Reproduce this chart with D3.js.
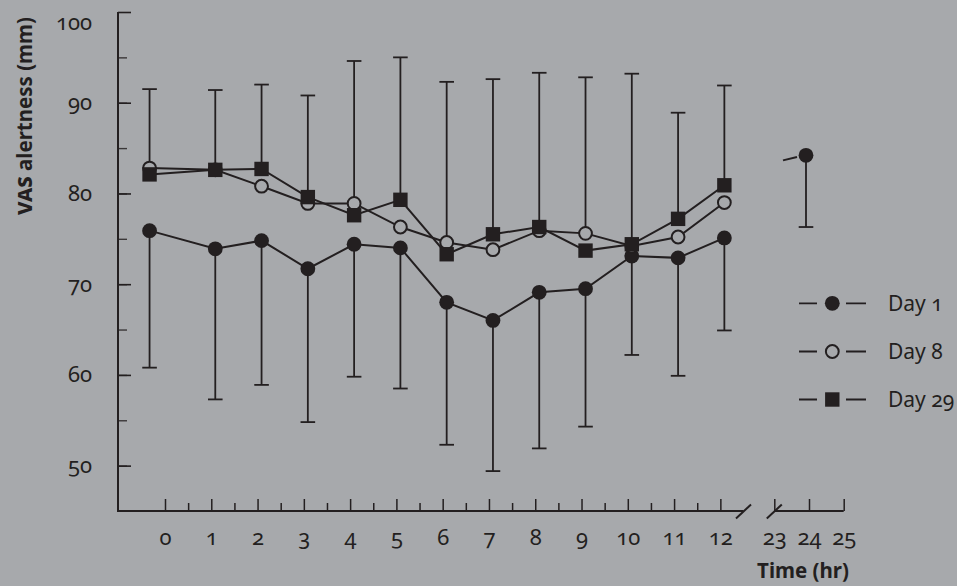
<!DOCTYPE html>
<html><head><meta charset="utf-8">
<script src="https://cdn.jsdelivr.net/npm/d3@7"></script>
<style>
html,body{margin:0;padding:0;background:#a7a9ac;}
svg{display:block;font-family:"Noto Sans",sans-serif;}
.num{font-variant-numeric:oldstyle-nums;}
</style></head><body>
<svg id="chart" width="957" height="586"></svg>
<script>
// ---- data ----
const times  = [-0.42, 1, 2, 3, 4, 5, 6, 7, 8, 9, 10, 11, 12, 24];
const day1   = [75.9, 73.9, 74.8, 71.7, 74.4, 74.0, 68.0, 66.0, 69.1, 69.5, 73.1, 72.9, 75.1, 84.2];
const day8   = [82.8, 82.6, 80.8, 78.9, 78.9, 76.3, 74.6, 73.8, 75.9, 75.6, 74.2, 75.2, 79.0, null];
const day29  = [82.1, 82.6, 82.7, 79.6, 77.6, 79.3, 73.3, 75.5, 76.3, 73.7, 74.4, 77.2, 80.9, null];
const upperBar = [91.5, 91.4, 92.0, 90.8, 94.6, 95.0, 92.3, 92.6, 93.3, 92.8, 93.2, 88.9, 91.9, null];
const lowerBar = [60.8, 57.3, 58.9, 54.8, 59.8, 58.5, 52.3, 49.4, 51.9, 54.3, 62.2, 59.9, 64.9, 76.3];
const xMajorTicks = [0,1,2,3,4,5,6,7,8,9,10,11,12,23,24,25];
const xMinorTicks = [0.5,1.5,2.5,3.5,4.5,5.5,6.5,7.5,8.5,9.5,10.5,11.5];
const yMajorTicks = [50,60,70,80,90,100];
const yMinorTicks = [50,55,60,65,70,75,80,85,90,95];
const axisBreaks = [12.5, 23];
const legendItems = ["Day 1","Day 8","Day 29"];
const yTitle = "VAS alertness (mm)";
const xTitle = "Time (hr)";

// ---- layout ----
const INK = "#231f20", BG = "#a7a9ac";
const svg = d3.select("#chart");
const x = d3.scaleLinear().domain([0, 12.5, 23, 25]).range([165, 743.5, 774.3, 843.7]);
const y = d3.scaleLinear().domain([45, 100]).range([511, 12]);
const xd = t => x(t) + (t <= 12.5 ? 4 : -3);   // marker offset from the tick positions

// axes
const gx = svg.append("g").attr("transform", "translate(0,511)");
gx.call(d3.axisBottom(x).tickValues(xMinorTicks).tickSizeInner(-8).tickSizeOuter(0).tickFormat(""));
gx.call(g => g.selectAll(".domain").remove());
const gx2 = svg.append("g").attr("transform", "translate(0,511)");
gx2.call(d3.axisBottom(x).tickValues(xMajorTicks).tickSizeInner(-12).tickSizeOuter(0).tickPadding(20).tickFormat(d3.format("d")));
gx2.select(".domain").remove();
[gx, gx2].forEach(g => g.selectAll("line").attr("stroke", INK).attr("stroke-width", 1.5));
gx2.selectAll("text").attr("class","num").attr("fill", INK).style("font-size","22px").style("font-family","'Noto Sans',sans-serif")
   .attr("dy","0.62em");

const gy = svg.append("g").attr("transform", "translate(118,0)");
gy.call(d3.axisLeft(y).tickValues(yMinorTicks).tickSizeInner(-9).tickSizeOuter(0).tickFormat(""));
gy.select(".domain").remove();
gy.selectAll("line").attr("stroke", "#3a3738").attr("stroke-width", 1.4);
const gy2 = svg.append("g").attr("transform", "translate(118,0)");
gy2.call(d3.axisLeft(y).tickValues(yMajorTicks).tickSizeInner(-13).tickSizeOuter(0).tickPadding(26).tickFormat(d3.format("d")));
gy2.select(".domain").remove();
gy2.selectAll("line").attr("stroke", INK).attr("stroke-width", 1.6);
gy2.selectAll("text").attr("class","num").attr("fill", INK).style("font-size","22px").style("font-family","'Noto Sans',sans-serif")
   .attr("dy", d => d === 100 ? "0.78em" : "0.32em");

// axis lines and breaks
svg.append("path").attr("d", `M118,${y(100)}V511`).attr("stroke", INK).attr("stroke-width", 2).attr("fill","none");
svg.append("path").attr("d", `M117,511H${x(axisBreaks[0])}M${x(axisBreaks[1])},511H${x(25)}`)
   .attr("stroke", INK).attr("stroke-width", 2).attr("fill","none");
svg.selectAll(".brk").data(axisBreaks).join("line")
   .attr("x1", d => x(d) - 7.5).attr("y1", 518.5).attr("x2", d => x(d) + 7.5).attr("y2", 504.5)
   .attr("stroke", INK).attr("stroke-width", 2);

// titles
svg.append("text").attr("transform", "translate(31.5,116) rotate(-90)").attr("text-anchor","middle")
   .attr("fill", INK).style("font-weight","bold").style("font-size","20.5px")
   .call(t => { t.append("tspan").style("font-variant-caps","all-small-caps").style("font-size","24px").text("VAS");
                t.append("tspan").text(yTitle.slice(3)); });
svg.append("text").attr("x", 803).attr("y", 578).attr("text-anchor","middle").attr("fill", INK)
   .style("font-weight","bold").style("font-size","20.5px").text(xTitle);

// error bars
const idx = d3.range(times.length);
const bars = svg.append("g").attr("stroke", INK).attr("stroke-width", 1.8);
idx.filter(i => upperBar[i] != null).forEach(i => {
  const top = Math.max(day8[i], day29[i]);
  bars.append("line").attr("x1", xd(times[i])).attr("x2", xd(times[i])).attr("y1", y(upperBar[i])).attr("y2", y(top));
  bars.append("line").attr("x1", xd(times[i]) - 7.3).attr("x2", xd(times[i]) + 7.3).attr("y1", y(upperBar[i])).attr("y2", y(upperBar[i]));
});
idx.filter(i => lowerBar[i] != null).forEach(i => {
  bars.append("line").attr("x1", xd(times[i])).attr("x2", xd(times[i])).attr("y1", y(day1[i])).attr("y2", y(lowerBar[i]));
  bars.append("line").attr("x1", xd(times[i]) - 7.3).attr("x2", xd(times[i]) + 7.3).attr("y1", y(lowerBar[i])).attr("y2", y(lowerBar[i]));
});

// series
const series = [
  {name: legendItems[0], vals: day1, shape: "dot"},
  {name: legendItems[1], vals: day8, shape: "open"},
  {name: legendItems[2], vals: day29, shape: "square"}
];
function marker(g, shape, cx, cy) {
  if (shape === "dot") g.append("circle").attr("cx", cx).attr("cy", cy).attr("r", 7.4).attr("fill", INK);
  else if (shape === "open") g.append("circle").attr("cx", cx).attr("cy", cy).attr("r", 6.4).attr("fill", BG).attr("stroke", INK).attr("stroke-width", 2);
  else g.append("rect").attr("x", cx - 7.2).attr("y", cy - 7.2).attr("width", 14.4).attr("height", 14.4).attr("fill", INK);
}
series.forEach(s => {
  const g = svg.append("g");
  const pts = idx.filter(i => s.vals[i] != null && times[i] <= 12).map(i => [xd(times[i]), y(s.vals[i])]);
  g.append("path").attr("d", d3.line()(pts)).attr("fill","none").attr("stroke", INK).attr("stroke-width", 2);
  idx.filter(i => s.vals[i] != null).forEach(i => marker(g, s.shape, xd(times[i]), y(s.vals[i])));
});
// line stub entering the 24 h point across the break
const i24 = times.indexOf(24);
svg.append("line").attr("x1", xd(24) - 23).attr("y1", y(day1[i24]) + 5).attr("x2", xd(24) - 9).attr("y2", y(day1[i24]) + 1.6)
   .attr("stroke", INK).attr("stroke-width", 2);

// legend
const legY = [303.3, 351.5, 399.5];
series.forEach((s, k) => {
  const g = svg.append("g");
  g.append("path").attr("d", `M799,${legY[k]}H817M846,${legY[k]}H866`).attr("stroke", INK).attr("stroke-width", 1.8);
  marker(g, s.shape, 832.3, legY[k]);
  g.append("text").attr("x", 888).attr("y", legY[k]).attr("dy","0.36em").attr("fill", INK)
   .attr("class","num").style("font-size","21px").text(s.name);
});
</script>
</body></html>
